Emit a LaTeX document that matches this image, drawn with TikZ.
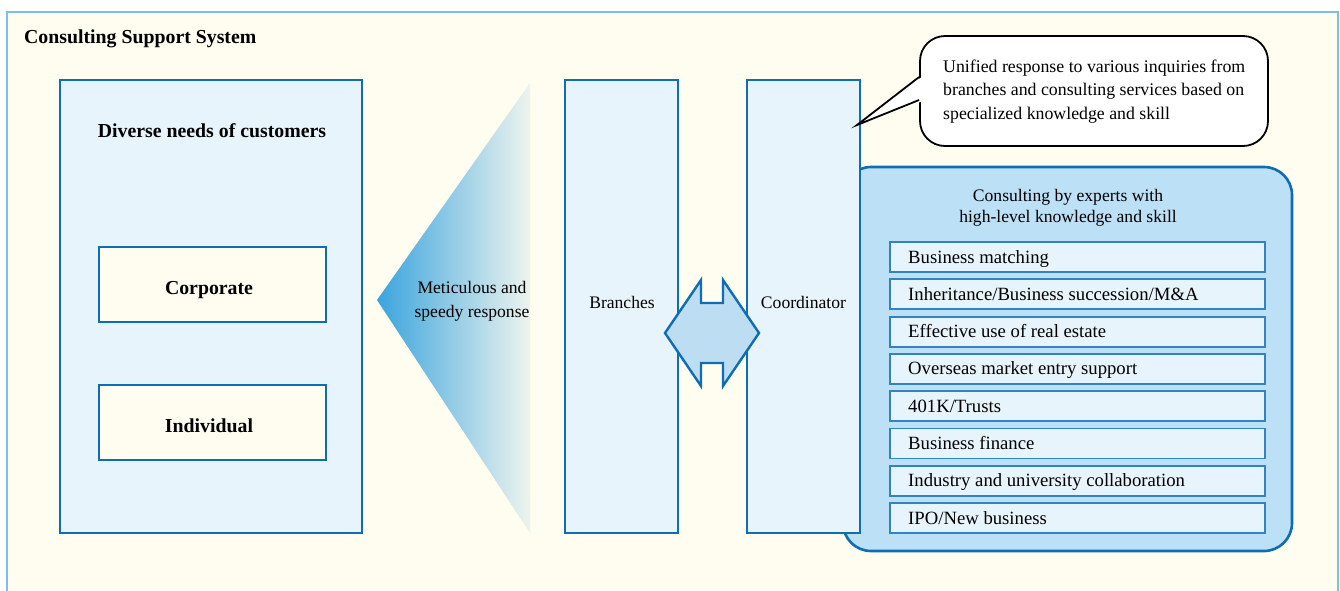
\documentclass[tikz,border=0pt]{standalone}
\usepackage{fontspec}
\setmainfont{Liberation Serif}
\definecolor{cream}{HTML}{FEFDF0}
\definecolor{bord}{HTML}{0E6DB5}
\definecolor{paleblue}{HTML}{E8F4FC}
\definecolor{midblue}{HTML}{BCE0F6}
\definecolor{arrowblue}{HTML}{BDDDF3}
\definecolor{frameblue}{HTML}{7CC0EA}
\definecolor{tipblue}{HTML}{3AA4DE}
\definecolor{fadeend}{HTML}{EEF4EE}
\begin{document}
\begin{tikzpicture}[x=1pt,y=-1pt,
  bigbox/.style={draw=bord, line width=2.6pt, fill=paleblue, inner sep=0pt},
  custbox/.style={draw=bord, line width=2.6pt, fill=cream, inner sep=0pt, minimum width=227pt, minimum height=75pt},
  itembox/.style={draw=bord!85!white, line width=1.8pt, fill=paleblue, inner sep=0pt, minimum width=375pt, minimum height=30pt},
  boldtxt/.style={font=\fontsize{19.8}{23}\selectfont\bfseries, inner sep=0pt, anchor=base},
  regtxt/.style={font=\fontsize{17.6}{24}\selectfont, inner sep=0pt, anchor=base, align=center},
  itemtxt/.style={font=\fontsize{18.7}{22}\selectfont, inner sep=0pt, anchor=base west},
]
\useasboundingbox (0,0) rectangle (1340,590);
\fill[white] (0,0) rectangle (1340,590);
\fill[cream] (7,12) rectangle (1338,590);
\draw[frameblue, line width=2pt] (7,596) -- (7,12) -- (1338,12) -- (1338,596);

\node[font=\fontsize{19.8}{23}\selectfont\bfseries, inner sep=0pt, anchor=base west] (title) at (24,43) {Consulting Support System};

% customers
\node[bigbox, minimum width=302pt, minimum height=453pt] (needs) at (211,306.5) {};
\node[boldtxt] (needsT) at (212,137) {Diverse needs of customers};
\node[custbox] (corp) at (212.5,284.5) {};
\node[boldtxt] (corpT) at (corp.center) [xshift=-3.5pt, yshift=-9.5pt] {Corporate};
\node[custbox] (indiv) at (212.5,422.5) {};
\node[boldtxt] (indivT) at (indiv.center) [xshift=-3.5pt, yshift=-9.5pt] {Individual};

% gradient wedge
\shade[left color=tipblue, right color=fadeend] (377,300) -- (530,83) -- (530,533) -- cycle;
\node[regtxt] (resp) at (472,317) {Meticulous and\\speedy response};

% experts panel (behind coordinator)
\node[draw=bord, line width=2.6pt, fill=midblue, rounded corners=28pt, minimum width=449pt, minimum height=384pt, inner sep=0pt] (experts) at (1067.5,359) {};

% branches & coordinator
\node[bigbox, minimum width=113pt, minimum height=453pt] (branch) at (621.5,306.5) {};
\node[regtxt] (branchT) at (622,308) {Branches};
\node[bigbox, minimum width=113pt, minimum height=453pt] (coord) at (803.5,306.5) {};
\node[regtxt] (coordT) at (803.5,308) {Coordinator};

% double arrow
\draw[draw=bord, line width=2.4pt, fill=arrowblue, line join=miter]
  (665,333) -- (701,280) -- (701,303) -- (723,303) -- (723,280) -- (759,333)
  -- (723,386) -- (723,363) -- (701,363) -- (701,386) -- cycle;

% speech bubble
\node[draw=black, line width=1.8pt, fill=white, rounded corners=25pt, minimum width=348pt, minimum height=110pt, inner sep=0pt] (bubble) at (1094,91) {};
\coordinate (tip) at (857,125);
\fill[white] (923,76) -- (tip) -- (923,101) -- cycle;
\draw[black, line width=1.8pt, line join=miter] (bubble.west |- 0,77) -- (tip) -- (bubble.west |- 0,100);
\node[font=\fontsize{17.8}{23.5}\selectfont, inner sep=0pt, anchor=base west, align=left] (bubbleT) at (943,119)
  {Unified response to various inquiries from\\branches and consulting services based on\\specialized knowledge and skill};

% experts content
\node[font=\fontsize{17.6}{21}\selectfont, inner sep=0pt, anchor=base, align=center] (expT) at (1068,222)
  {Consulting by experts with\\high-level knowledge and skill};
\foreach \i/\t in {0/Business matching, 1/Inheritance\slash Business succession\slash M\&A, 2/Effective use of real estate, 3/Overseas market entry support, 4/401K\slash Trusts, 5/Business finance, 6/Industry and university collaboration, 7/IPO\slash New business}{
  \node[itembox] (item\i) at (1077.5,{257+37.3*\i}) {};
  \node[itemtxt] (itemT\i) at (908,{263+37.3*\i}) {\t};
}
\end{tikzpicture}
\end{document}
